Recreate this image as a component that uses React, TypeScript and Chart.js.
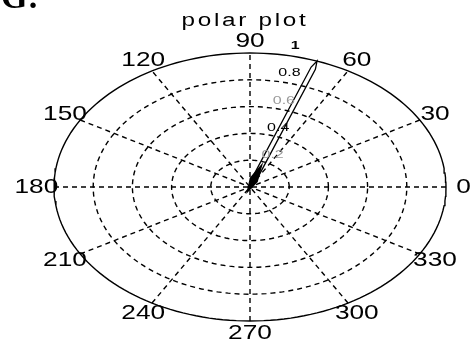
import React, { useEffect, useRef } from 'react';
import { Chart, registerables } from 'chart.js';

Chart.register(...registerables);

// ---- data ----
const TITLE = 'polar plot';
const CORNER_TEXT = 'G:';
const RING_RADII = [0.2, 0.4, 0.6, 0.8];
const OUTER_RADIUS = [1];
const SPOKE_ANGLES = [0, 30, 60, 90, 120, 150];
const ANGLE_LABEL_DEGREES = [0, 30, 60, 90, 120, 150, 180, 210, 240, 270, 300, 330];
const ANGLE_LABELS = ['0', '30', '60', '90', '120', '150', '180', '210', '240', '270', '300', '330'];
const RADIAL_TICKS = [0.2, 0.4, 0.6, 0.8, 1];
const RADIAL_TICK_LABELS = ['0.2', '0.4', '0.6', '0.8', '1'];
const ARROW_MAGNITUDES = [1];
const ARROW_ANGLES = [70];

const DEG = Math.PI / 180;

function circlePoints(r: number) {
  const pts: { x: number; y: number }[] = [];
  for (let d = 0; d <= 360; d += 2) pts.push({ x: r * Math.cos(d * DEG), y: r * Math.sin(d * DEG) });
  return pts;
}

function drawStretched(ctx: CanvasRenderingContext2D, text: string, x: number, y: number, font: string, sx: number, color: string, baseline: CanvasTextBaseline = 'middle', align: CanvasTextAlign = 'center', spacing = 0) {
  ctx.save();
  ctx.translate(x, y);
  ctx.scale(sx, 1);
  ctx.font = font;
  ctx.fillStyle = color;
  ctx.textAlign = align;
  ctx.textBaseline = baseline;
  (ctx as any).letterSpacing = spacing + 'px';
  ctx.fillText(text, 0, 0);
  ctx.restore();
}

const polarDecor = {
  id: 'polarDecor',
  afterDatasetsDraw(chart: any) {
    const ctx: CanvasRenderingContext2D = chart.ctx;
    const xs = chart.scales.x;
    const ys = chart.scales.y;
    const px = (v: number) => xs.getPixelForValue(v);
    const py = (v: number) => ys.getPixelForValue(v);

    // arrows
    ARROW_MAGNITUDES.forEach((m, i) => {
      const a = ARROW_ANGLES[i] * DEG;
      const cx = px(0), cy = py(0);
      const tx = px(m * Math.cos(a)), ty = py(m * Math.sin(a));
      const dx = tx - cx, dy = ty - cy;
      const len = Math.hypot(dx, dy);
      const ux = dx / len, uy = dy / len;
      const nx = -uy, ny = ux;
      const w = 2.4;
      ctx.save();
      ctx.strokeStyle = '#000';
      ctx.lineWidth = 1.3;
      ctx.beginPath();
      ctx.moveTo(cx + ux * 6 + nx * w, cy + uy * 6 + ny * w);
      ctx.lineTo(tx - ux * 8 + nx * w, ty - uy * 8 + ny * w);
      ctx.lineTo(tx, ty);
      ctx.lineTo(tx - ux * 8 - nx * w, ty - uy * 8 - ny * w);
      ctx.lineTo(cx + ux * 6 - nx * w, cy + uy * 6 - ny * w);
      ctx.stroke();
      ctx.fillStyle = '#000';
      ctx.beginPath();
      ctx.moveTo(cx - ux * 8, cy - uy * 8);
      ctx.lineTo(cx + ux * 8 + nx * 4.5, cy + uy * 8 + ny * 4.5);
      ctx.lineTo(cx + ux * 28, cy + uy * 28);
      ctx.lineTo(cx + ux * 8 - nx * 4.5, cy + uy * 8 - ny * 4.5);
      ctx.closePath();
      ctx.fill();
      ctx.restore();
    });

    // angle labels
    ANGLE_LABEL_DEGREES.forEach((d, i) => {
      const r = 1.09;
      drawStretched(ctx, ANGLE_LABELS[i], px(r * Math.cos(d * DEG)), py(r * Math.sin(d * DEG)), '21px "Liberation Sans", Arial, sans-serif', 1.25, '#000');
    });

    // radial tick labels
    RADIAL_TICKS.forEach((r, i) => {
      const a = 82 * DEG;
      const x = px(r * 1.03 * Math.cos(a)) + 17;
      const y = py(r * 1.03 * Math.sin(a)) - 4;
      const faint = r === 0.2 || r === 0.6;
      drawStretched(ctx, RADIAL_TICK_LABELS[i], x, y, (r === 1 ? 'bold ' : '') + '10px "Liberation Sans", Arial, sans-serif', 1.6, faint ? '#9a9a9a' : '#000');
    });

    // title
    drawStretched(ctx, TITLE, px(0) - 5, 26, '18px "Liberation Sans", Arial, sans-serif', 1.35, '#000', 'alphabetic', 'center', 2);

    // corner text
    drawStretched(ctx, CORNER_TEXT, 1, 8, 'bold 34px "Liberation Serif", "Times New Roman", serif', 1, '#000', 'alphabetic', 'left', 0);
  },
};

export default function App() {
  const canvasRef = useRef<HTMLCanvasElement | null>(null);

  useEffect(() => {
    if (!canvasRef.current) return;
    const datasets: any[] = [];
    RING_RADII.forEach((r) => {
      datasets.push({
        data: circlePoints(r),
        showLine: true,
        borderColor: '#000',
        borderWidth: 1.4,
        borderDash: [5, 4],
        pointRadius: 0,
        tension: 0,
        clip: false,
      });
    });
    SPOKE_ANGLES.forEach((d) => {
      const c = Math.cos(d * DEG), s = Math.sin(d * DEG);
      datasets.push({
        data: [{ x: -OUTER_RADIUS[0] * c, y: -OUTER_RADIUS[0] * s }, { x: OUTER_RADIUS[0] * c, y: OUTER_RADIUS[0] * s }],
        showLine: true,
        borderColor: '#000',
        borderWidth: 1.4,
        borderDash: [5, 4],
        pointRadius: 0,
        clip: false,
      });
    });
    OUTER_RADIUS.forEach((r) => {
      datasets.push({
        data: circlePoints(r),
        showLine: true,
        borderColor: '#000',
        borderWidth: 1.4,
        pointRadius: 0,
        tension: 0,
        clip: false,
      });
    });

    const chart = new Chart(canvasRef.current, {
      type: 'scatter',
      data: { datasets },
      options: {
        responsive: false,
        animation: false,
        devicePixelRatio: 1,
        layout: { padding: { left: 54, right: 24, top: 53, bottom: 23 } },
        plugins: { legend: { display: false }, tooltip: { enabled: false }, title: { display: false } },
        scales: {
          x: { type: 'linear', min: -1, max: 1, display: false },
          y: { type: 'linear', min: -1, max: 1, display: false },
        },
      },
      plugins: [polarDecor],
    } as any);
    return () => chart.destroy();
  }, []);

  return (
    <div style={{ position: 'fixed', left: 0, top: 0, width: 470, height: 344, background: '#fff' }}>
      <canvas ref={canvasRef} width={470} height={344} />
    </div>
  );
}
